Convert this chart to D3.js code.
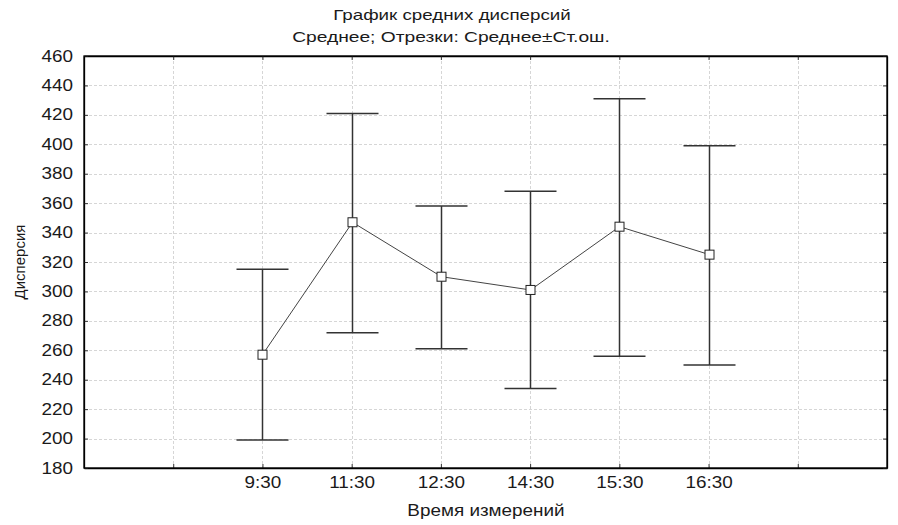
<!DOCTYPE html>
<html>
<head>
<meta charset="utf-8">
<script src="https://cdn.jsdelivr.net/npm/d3@7"></script>
<style>
  body { margin: 0; background: #fff; }
  text { font-family: "Liberation Sans", Arial, sans-serif; fill: #1a1a1a; }
</style>
</head>
<body>
<svg width="898" height="525"></svg>
<script>
// tick slots along x: first and last are empty (padding categories)
var tickSlots = ["", "9:30", "11:30", "12:30", "14:30", "15:30", "16:30", ""];
var times = ["9:30", "11:30", "12:30", "14:30", "15:30", "16:30"];
var means = [257, 347, 310, 301, 344, 325];
var upper = [315, 421, 358, 368, 431, 399];
var lower = [199, 272, 261, 234, 256, 250];
var yTicks = [180, 200, 220, 240, 260, 280, 300, 320, 340, 360, 380, 400, 420, 440, 460];

var svg = d3.select('svg');
var pLeft = 84, pRight = 887, pTop = 56, pBottom = 468;

var x = d3.scalePoint()
  .domain(d3.range(tickSlots.length))
  .range([pLeft, pRight])
  .padding(1);

var y = d3.scaleLinear()
  .domain([180, 460])
  .range([pBottom, pTop]);

function xOf(t) { return Math.round(x(tickSlots.indexOf(t))) + 0.5; }

// grid
var grid = svg.append('g').attr('stroke', '#d6d6d6').attr('stroke-dasharray', '3,2');
grid.selectAll('line.h')
  .data(yTicks.slice(1, -1))
  .enter().append('line')
    .attr('x1', pLeft).attr('x2', pRight)
    .attr('y1', d => Math.round(y(d)) + 0.5).attr('y2', d => Math.round(y(d)) + 0.5);
grid.selectAll('line.v')
  .data(d3.range(tickSlots.length))
  .enter().append('line')
    .attr('y1', pTop).attr('y2', pBottom)
    .attr('x1', d => Math.round(x(d)) + 0.5).attr('x2', d => Math.round(x(d)) + 0.5);

// axes, ticks pointing inside
svg.append('g').attr('class', 'ax')
  .attr('transform', 'translate(0,' + pBottom + ')')
  .call(d3.axisBottom(x).tickSizeInner(-4).tickSizeOuter(0).tickPadding(9)
    .tickFormat(i => tickSlots[i]));
svg.append('g').attr('class', 'ax')
  .attr('transform', 'translate(0,' + pTop + ')')
  .call(d3.axisTop(x).tickSizeInner(-4).tickSizeOuter(0).tickFormat(''));
svg.append('g').attr('class', 'ax')
  .attr('transform', 'translate(' + pLeft + ',0)')
  .call(d3.axisLeft(y).tickValues(yTicks).tickSizeInner(-4).tickSizeOuter(0).tickPadding(11));
svg.append('g').attr('class', 'ax')
  .attr('transform', 'translate(' + pRight + ',0)')
  .call(d3.axisRight(y).tickValues(yTicks).tickSizeInner(-4).tickSizeOuter(0).tickFormat(''));

svg.selectAll('.ax path').attr('stroke', '#000').attr('stroke-width', 1.3);
svg.selectAll('.ax line').attr('stroke', '#333');
svg.selectAll('.ax text').attr('font-size', 16).attr('fill', '#1a1a1a')
  .style('font-family', '"Liberation Sans", Arial, sans-serif');

// frame
svg.append('rect')
  .attr('x', pLeft).attr('y', pTop)
  .attr('width', pRight - pLeft).attr('height', pBottom - pTop)
  .attr('fill', 'none').attr('stroke', '#000').attr('stroke-width', 1.3);

// error bars
var capW = 26;
var bars = svg.append('g').attr('stroke', '#333').attr('stroke-width', 1.5);
times.forEach(function (t, i) {
  var cx = xOf(t);
  bars.append('line').attr('x1', cx).attr('x2', cx).attr('y1', y(upper[i])).attr('y2', y(lower[i]));
  bars.append('line').attr('x1', cx - capW).attr('x2', cx + capW).attr('y1', y(upper[i])).attr('y2', y(upper[i]));
  bars.append('line').attr('x1', cx - capW).attr('x2', cx + capW).attr('y1', y(lower[i])).attr('y2', y(lower[i]));
});

// mean line
var line = d3.line()
  .x((d, i) => xOf(times[i]))
  .y(d => y(d));
svg.append('path')
  .datum(means)
  .attr('d', line)
  .attr('fill', 'none')
  .attr('stroke', '#444')
  .attr('stroke-width', 1);

// markers
svg.selectAll('rect.mk')
  .data(means)
  .enter().append('rect')
    .attr('class', 'mk')
    .attr('x', (d, i) => xOf(times[i]) - 4.5)
    .attr('y', d => y(d) - 4.5)
    .attr('width', 9).attr('height', 9)
    .attr('fill', '#fff').attr('stroke', '#222').attr('stroke-width', 1);

// titles
svg.append('text').attr('class', 'wide').attr('data-k', 1.25)
  .attr('x', 452).attr('y', 20).attr('text-anchor', 'middle').attr('font-size', 15)
  .text('График средних дисперсий');
svg.append('text').attr('class', 'wide').attr('data-k', 1.28)
  .attr('x', 451).attr('y', 42).attr('text-anchor', 'middle').attr('font-size', 15)
  .text('Среднее; Отрезки: Среднее±Ст.ош.');
svg.append('text').attr('class', 'wide')
  .attr('x', 486).attr('y', 516).attr('text-anchor', 'middle').attr('font-size', 16)
  .text('Время измерений');
svg.append('text')
  .attr('transform', 'translate(25,262) rotate(-90)')
  .attr('text-anchor', 'middle').attr('font-size', 15)
  .text('Дисперсия');

// the reference font is horizontally wide: stretch glyphs a bit
svg.selectAll('.ax text, text.wide').each(function () {
  var w = this.getComputedTextLength();
  var k = +(this.getAttribute('data-k') || 1.18);
  if (w > 0) {
    d3.select(this).attr('textLength', w * k).attr('lengthAdjust', 'spacingAndGlyphs');
  }
});
</script>
</body>
</html>
